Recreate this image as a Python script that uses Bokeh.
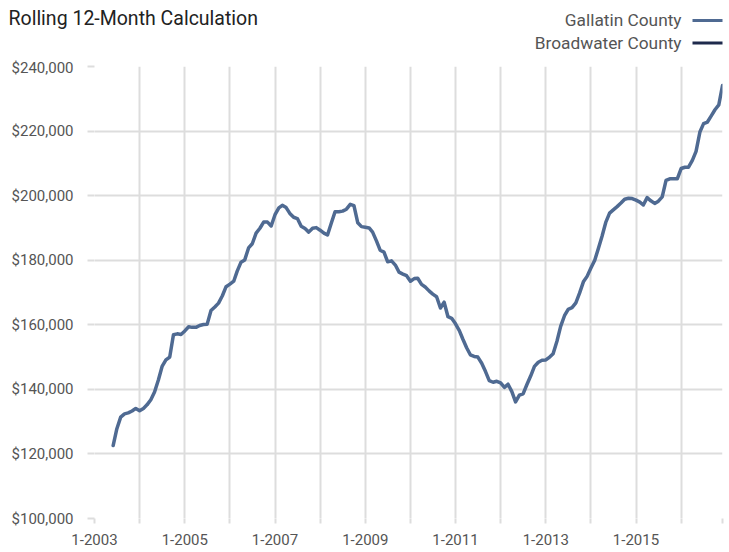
import pandas as pd
from bokeh.plotting import figure
from bokeh.layouts import column
from bokeh.models import (Range1d, FixedTicker, NumeralTickFormatter,
                          CustomJSTickFormatter)
from bokeh.core.properties import value
from bokeh.embed import file_html
from bokeh.resources import INLINE

# ---------------- data ----------------
title_text = "Rolling 12-Month Calculation"
series_names = ["Gallatin County", "Broadwater County"]
series_colors = ["#4f6a92", "#1e2a4c"]
first_month = "2003-06-01"          # monthly values, Jun 2003 .. Dec 2016
gallatin_k = [
    122.6, 127.8, 131.4, 132.4, 132.7, 133.3, 134.1,                      # 2003
    133.4, 134.1, 135.2, 136.8, 139.2, 142.9, 147.1, 149.1, 150.0, 156.9, 157.2, 157.0,   # 2004
    158.1, 159.4, 159.2, 159.2, 159.8, 160.1, 160.2, 164.4, 165.5, 166.7, 169.0, 171.8,   # 2005
    172.6, 173.5, 176.6, 179.4, 180.1, 183.8, 185.1, 188.4, 189.9, 191.8, 191.8, 190.6,   # 2006
    194.1, 196.2, 197.0, 196.3, 194.5, 193.3, 192.9, 190.5, 189.8, 188.7, 189.9, 190.1,   # 2007
    189.3, 188.4, 187.8, 191.5, 195.0, 195.0, 195.2, 195.8, 197.3, 196.9, 191.6, 190.4,   # 2008
    190.2, 190.0, 188.7, 186.0, 183.1, 182.5, 179.5, 179.8, 178.5, 176.3, 175.7, 175.2,   # 2009
    173.5, 174.3, 174.4, 172.5, 171.7, 170.5, 169.5, 168.7, 165.2, 167.0, 162.5, 162.0,   # 2010
    160.3, 158.2, 155.6, 152.9, 150.7, 150.2, 150.0, 148.1, 145.5, 142.7, 142.2, 142.5,   # 2011
    142.0, 140.6, 141.6, 139.3, 136.1, 138.2, 138.6, 141.5, 144.2, 147.1, 148.4, 149.0,   # 2012
    149.1, 150.0, 151.0, 154.9, 159.5, 162.8, 164.8, 165.3, 166.8, 169.8, 173.3, 175.0,   # 2013
    177.6, 180.0, 183.5, 187.4, 191.7, 194.6, 195.6, 196.6, 197.7, 198.9, 199.2, 199.1,   # 2014
    198.6, 198.0, 197.1, 199.4, 198.4, 197.6, 198.3, 199.6, 204.7, 205.2, 205.2, 205.2,   # 2015
    208.4, 208.8, 208.8, 210.9, 213.7, 219.7, 222.3, 222.8, 224.7, 226.6, 228.1, 234.1,   # 2016
]
y_ticks = [100000, 120000, 140000, 160000, 180000, 200000, 220000, 240000]
x_tick_years = list(range(2003, 2017))

# ---------------- style / layout ----------------
FONT = "Roboto"
GRID = "#dddddd"
TEXT = "#555555"
W = 727
HEADER_H = 58
MAIN_H = 494

# ---------------- header: title + legend ----------------
hdr = figure(width=W, height=HEADER_H, x_range=Range1d(0, W),
             y_range=Range1d(HEADER_H, 0), output_backend="svg",
             toolbar_location=None, x_axis_location=None, y_axis_location=None,
             min_border=0)
hdr.frame_align = False
hdr.outline_line_color = None
hdr.grid.visible = False
hdr.background_fill_color = "white"
hdr.border_fill_color = "white"

hdr.text(x=[8], y=[17.5], text=[title_text], text_font=value(FONT),
         text_font_size="19.5px", text_color="#222222",
         text_align="left", text_baseline="alphabetic")

leg_text_right = 681
leg_sw_left, leg_sw_right = 692, 722
leg_rows = [19.5, 42.0]
hdr.text(x=[leg_text_right] * 2, y=leg_rows, text=series_names,
         text_font=value(FONT), text_font_size="17.3px", text_color=TEXT,
         text_align="right", text_baseline="middle")
hdr.segment(x0=[leg_sw_left] * 2, x1=[leg_sw_right] * 2,
            y0=[r + 0.5 for r in leg_rows], y1=[r + 0.5 for r in leg_rows],
            line_color=series_colors, line_width=3)

# ---------------- main chart ----------------
dates = pd.date_range(first_month, periods=len(gallatin_k), freq="MS")
gallatin = [v * 1000 for v in gallatin_k]

p = figure(width=W, height=MAIN_H, x_axis_type="datetime",
           x_range=Range1d(pd.Timestamp("2003-01-01"), dates[-1]),
           y_range=Range1d(y_ticks[0], y_ticks[-1]),
           output_backend="svg", toolbar_location=None,
           min_border_left=94, min_border_right=5,
           min_border_top=8, min_border_bottom=34)
p.frame_align = False
p.outline_line_color = None
p.background_fill_color = "white"
p.border_fill_color = "white"

tick_ms = [pd.Timestamp(f"{y}-01-01").value / 1e6 for y in x_tick_years]
tick_ms.append(dates[-1].value / 1e6)
p.xaxis.ticker = FixedTicker(ticks=tick_ms)
p.xaxis.formatter = CustomJSTickFormatter(code="""
    const d = new Date(tick);
    const y = d.getUTCFullYear();
    return (d.getUTCMonth() == 0 && y % 2 == 1) ? "1-" + y : "";
""")
p.yaxis.ticker = FixedTicker(ticks=y_ticks)
p.yaxis.formatter = NumeralTickFormatter(format="$0,0")

for ax in (p.xaxis[0], p.yaxis[0]):
    ax.axis_line_color = None
    ax.major_tick_line_color = GRID
    ax.major_tick_line_width = 2
    ax.major_tick_in = 0
    ax.minor_tick_line_color = None
    ax.major_label_text_font = FONT
    ax.major_label_text_font_size = "15px"
    ax.major_label_text_color = TEXT
p.yaxis.major_tick_out = 7
p.yaxis.major_label_standoff = 14
p.xaxis.major_tick_out = 5
p.xaxis.major_label_standoff = 10

p.xgrid.grid_line_color = GRID
p.xgrid.grid_line_width = 2
p.ygrid.grid_line_color = GRID
p.ygrid.grid_line_width = 2

p.line(dates, gallatin, line_color=series_colors[0], line_width=3.5,
       line_join="round", line_cap="round")

layout = column(hdr, p, spacing=0)
open("out.html", "w").write(file_html(layout, INLINE))
